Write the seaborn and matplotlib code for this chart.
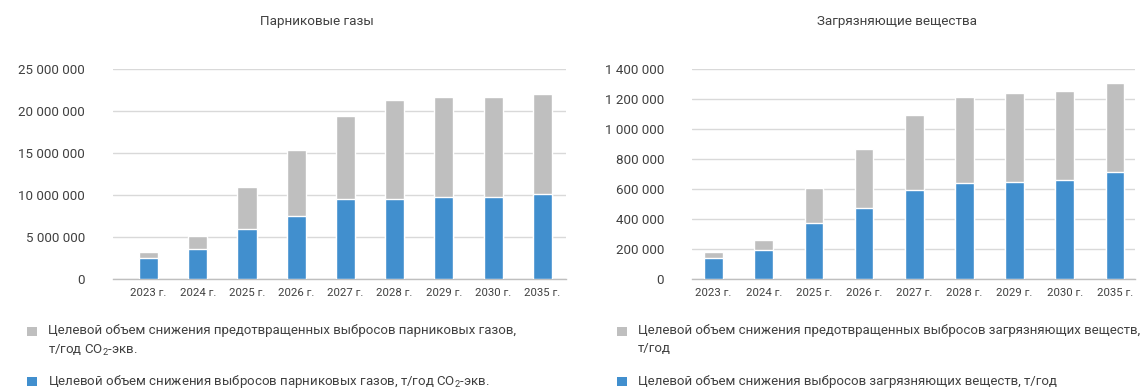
import matplotlib
matplotlib.use("Agg")
import matplotlib.pyplot as plt
import matplotlib.ticker as mticker
from matplotlib.patches import Rectangle
import seaborn as sns
import numpy as np

# ---- data ----
years = ["2023 г.", "2024 г.", "2025 г.", "2026 г.", "2027 г.", "2028 г.", "2029 г.", "2030 г.", "2035 г."]

ghg_reduction = [2470000, 3540000, 5930000, 7480000, 9510000, 9510000, 9750000, 9750000, 10110000]
ghg_prevented = [710000, 1520000, 5020000, 7890000, 9920000, 11830000, 11950000, 11950000, 11940000]

pol_reduction = [138000, 192000, 372000, 473000, 593000, 640000, 646000, 660000, 713000]
pol_prevented = [40000, 67000, 234000, 394000, 502000, 575000, 596000, 595000, 596000]

titles = ["Парниковые газы", "Загрязняющие вещества"]
legend_gray = ["Целевой объем снижения предотвращенных выбросов парниковых газов,\nт/год CO$_2$-экв.",
               "Целевой объем снижения предотвращенных выбросов загрязняющих веществ,\nт/год"]
legend_blue = ["Целевой объем снижения выбросов парниковых газов, т/год CO$_2$-экв.",
               "Целевой объем снижения выбросов загрязняющих веществ, т/год"]

BLUE = "#418FCE"
GRAY = "#BFBFBF"
TXT = "#404040"

sns.set_theme(style="white")
plt.rcParams["font.family"] = ["Roboto", "DejaVu Sans"]
plt.rcParams["mathtext.fontset"] = "custom"
plt.rcParams["mathtext.rm"] = "Roboto"
plt.rcParams["mathtext.it"] = "Roboto"

fig = plt.figure(figsize=(11.44, 3.92), dpi=100)
W, H = 1144, 392

def fx(px):
    return px / W

def fy(py):
    return 1 - py / H

specs = [
    dict(x0=113, x1=566, xlim=(-0.72, 8.48), width=0.39, ymax=25000000, step=5000000,
         red=ghg_reduction, prev=ghg_prevented, title_x=317, sq_x=27, txt_x=48),
    dict(x0=692, x1=1135, xlim=(-0.43, 8.40), width=0.37, ymax=1400000, step=200000,
         red=pol_reduction, prev=pol_prevented, title_x=897, sq_x=617, txt_x=638),
]

y_bottom, y_top = 278.7, 69.3

for i, s in enumerate(specs):
    ax = fig.add_axes([fx(s["x0"]), fy(y_bottom), fx(s["x1"] - s["x0"]), (y_bottom - y_top) / H])
    total = np.array(s["red"]) + np.array(s["prev"])
    sns.barplot(x=years, y=total, color=GRAY, width=s["width"], saturation=1, ax=ax, zorder=2)
    sns.barplot(x=years, y=s["red"], color=BLUE, width=s["width"], saturation=1, ax=ax, zorder=3)
    ax.set_xlim(*s["xlim"])
    ax.set_ylim(0, s["ymax"])
    ax.set_yticks(np.arange(0, s["ymax"] + 1, s["step"]))
    ax.yaxis.set_major_formatter(mticker.FuncFormatter(lambda v, p: f"{int(v):,}".replace(",", " ")))
    ax.grid(axis="y", color="#D9D9D9", linewidth=1.0, zorder=0)
    ax.set_axisbelow(True)
    for sp in ["top", "right", "left"]:
        ax.spines[sp].set_visible(False)
    ax.spines["bottom"].set_color("#BFBFBF")
    ax.spines["bottom"].set_linewidth(1.0)
    ax.tick_params(axis="y", length=0, pad=20, labelsize=9.6, labelcolor=TXT)
    ax.tick_params(axis="x", length=0, pad=7, labelsize=8.2, labelcolor=TXT)
    ax.set_xlabel("")
    ax.set_ylabel("")

    fig.text(fx(s["title_x"]), fy(22), titles[i], ha="center", va="center", fontsize=9.7, color=TXT)

    # legend
    fig.patches.append(Rectangle((fx(s["sq_x"]), fy(336)), fx(10), 9 / H, transform=fig.transFigure,
                                 facecolor=GRAY, edgecolor="none"))
    fig.text(fx(s["txt_x"]), fy(324), legend_gray[i], ha="left", va="top",
             fontsize=9.5, color=TXT, linespacing=1.55)
    fig.patches.append(Rectangle((fx(s["sq_x"]), fy(386)), fx(10), 9 / H, transform=fig.transFigure,
                                 facecolor=BLUE, edgecolor="none"))
    fig.text(fx(s["txt_x"]), fy(381), legend_blue[i], ha="left", va="center",
             fontsize=9.5, color=TXT)

fig.savefig("out.png", dpi=100)
